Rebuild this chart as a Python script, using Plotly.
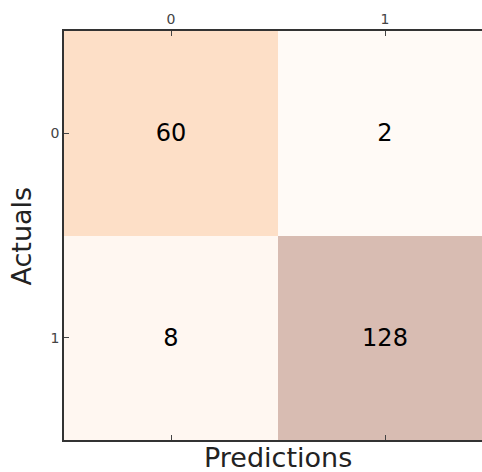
import plotly.graph_objects as go

categories = [0, 1]
actual_labels = [0, 1]
values = [[60, 2],
          [8, 128]]
x_title = "Predictions"
y_title = "Actuals"

colorscale = [[0.0, "#FFFAF6"], [0.46, "#FDDFC7"], [1.0, "#D8BCB2"]]

fig = go.Figure(go.Heatmap(
    z=values, x=categories, y=actual_labels,
    colorscale=colorscale, showscale=False,
    texttemplate="%{z}",
    textfont=dict(family="DejaVu Sans", size=24, color="black"),
    hoverinfo="skip",
))

fig.update_layout(
    width=482, height=472,
    margin=dict(l=64, r=0, t=31, b=32),
    paper_bgcolor="white", plot_bgcolor="white",
    font=dict(family="DejaVu Sans", color="#222"),
    xaxis=dict(
        side="top", range=[-0.5, 1.453], tickvals=categories,
        ticktext=[str(c) for c in categories],
        ticks="inside", ticklen=5, tickcolor="#444", tickwidth=1,
        showline=True, linecolor="#333", linewidth=1.5, mirror="ticks",
        showgrid=False, zeroline=False, tickfont=dict(size=14, color="#444"),
    ),
    yaxis=dict(
        range=[1.5, -0.5], tickvals=actual_labels,
        ticktext=[str(c) for c in actual_labels],
        ticks="inside", ticklen=5, tickcolor="#444", tickwidth=1,
        showline=True, linecolor="#333", linewidth=1.5, mirror=False,
        showgrid=False, zeroline=False, tickfont=dict(size=14, color="#444"),
    ),
    annotations=[
        dict(text=x_title, x=0.5, xref="x", y=-0.044, yref="paper",
             xanchor="center", yanchor="middle", showarrow=False,
             font=dict(size=27, color="#222")),
        dict(text=y_title, x=-0.1005, xref="paper", y=0.5, yref="paper",
             xanchor="center", yanchor="middle", textangle=-90, showarrow=False,
             font=dict(size=27, color="#222")),
    ],
)

fig.write_html(
    "out.html",
    config={"displayModeBar": False},
    post_script="document.body.style.margin='0';document.body.style.overflow='hidden';",
)
